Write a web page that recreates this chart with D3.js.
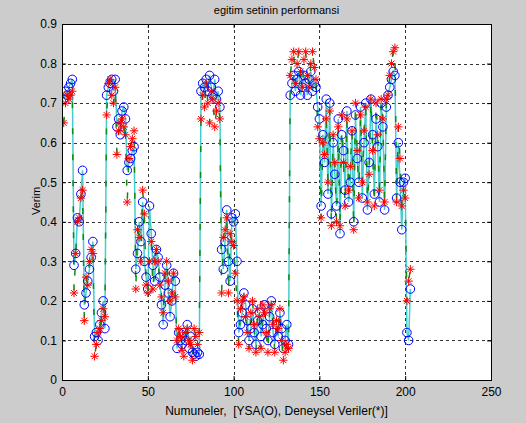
<!DOCTYPE html>
<html>
<head>
<meta charset="utf-8">
<script src="https://cdn.jsdelivr.net/npm/d3@7"></script>
<style>
  html, body { margin: 0; padding: 0; background: #cccccc; }
  svg { display: block; font-family: "Liberation Sans", Arial, sans-serif; }
</style>
</head>
<body>
<div class="chart"></div>
<script>
// YSA ciktisi (daireler) - numune sirasiyla
var ysa = [
  0.71, 0.73, 0.72, 0.74, 0.75, 0.76,
  0.29, 0.32, 0.41, 0.40, 0.47, 0.53,
  0.19, 0.22, 0.25, 0.28, 0.31, 0.35,
  0.11, 0.12, 0.10, 0.14, 0.17, 0.20, 0.13,
  0.72, 0.74, 0.75, 0.76, 0.73, 0.76,
  0.64, 0.66, 0.62, 0.68, 0.69, 0.66,
  0.53, 0.55, 0.56, 0.58, 0.59,
  0.28, 0.32, 0.40, 0.35, 0.45, 0.30, 0.26, 0.23, 0.44,
  0.37, 0.29, 0.25, 0.33, 0.31, 0.26, 0.19, 0.14, 0.24, 0.29, 0.22, 0.16, 0.20, 0.27, 0.25,
  0.08, 0.12, 0.10, 0.09, 0.12, 0.10, 0.14, 0.08, 0.11, 0.07, 0.065, 0.06, 0.07, 0.065,
  0.73, 0.75, 0.74, 0.76, 0.73, 0.77, 0.74, 0.72, 0.76, 0.71, 0.73, 0.69,
  0.33, 0.28, 0.35, 0.43, 0.30, 0.25, 0.41, 0.40, 0.42, 0.30,
  0.12, 0.14, 0.17, 0.22, 0.19, 0.15, 0.10, 0.13, 0.18, 0.12,
  0.09, 0.15, 0.17, 0.11, 0.14, 0.19, 0.13, 0.10, 0.16, 0.20,
  0.12, 0.09, 0.14, 0.11, 0.17, 0.13, 0.08, 0.10, 0.14, 0.09,
  0.72, 0.75, 0.77, 0.73, 0.76, 0.78, 0.72, 0.74, 0.77, 0.75, 0.72, 0.76, 0.78, 0.73, 0.75, 0.74,
  0.69, 0.66, 0.44, 0.62,
  0.55, 0.71, 0.47, 0.70, 0.42, 0.60, 0.52, 0.44, 0.66, 0.37,
  0.62, 0.58, 0.48, 0.68, 0.45, 0.50, 0.63, 0.40, 0.67, 0.56,
  0.50, 0.69, 0.46, 0.60, 0.70, 0.43, 0.55, 0.71, 0.62, 0.47,
  0.66, 0.59, 0.45, 0.70, 0.64, 0.43, 0.69, 0.72,
  0.74, 0.76, 0.78, 0.77,
  0.46, 0.60, 0.50, 0.38, 0.50, 0.51,
  0.12, 0.10, 0.23
];

// Deneysel veriler (yildizlar)
var deney = [
  0.65, 0.70, 0.72, 0.71, 0.72, 0.73,
  0.22, 0.32, 0.40, 0.41, 0.46, 0.48,
  0.15, 0.26, 0.24, 0.30, 0.33, 0.32,
  0.06, 0.09, 0.12, 0.13, 0.15, 0.18, 0.16,
  0.67, 0.75, 0.76, 0.72, 0.70, 0.74,
  0.57, 0.63, 0.65, 0.66, 0.64, 0.62,
  0.45, 0.56, 0.59, 0.61, 0.63,
  0.23, 0.38, 0.36, 0.30, 0.48, 0.42, 0.24, 0.22, 0.30,
  0.35, 0.23, 0.30, 0.33, 0.30, 0.24, 0.21, 0.17, 0.27, 0.30, 0.25, 0.20, 0.22, 0.27, 0.21,
  0.10, 0.13, 0.11, 0.075, 0.06, 0.12, 0.13, 0.10, 0.09, 0.05, 0.13, 0.11, 0.09, 0.12,
  0.66, 0.72, 0.69, 0.75, 0.70, 0.65, 0.73, 0.71, 0.64, 0.68, 0.70, 0.66,
  0.22, 0.36, 0.38, 0.41, 0.22, 0.37, 0.35, 0.34, 0.27, 0.20,
  0.09, 0.18, 0.20, 0.21, 0.16, 0.12, 0.08, 0.17, 0.20, 0.14,
  0.07, 0.18, 0.16, 0.08, 0.19, 0.17, 0.12, 0.07, 0.18, 0.19,
  0.14, 0.07, 0.15, 0.13, 0.18, 0.10, 0.05, 0.07, 0.09, 0.08,
  0.77, 0.81, 0.83, 0.75, 0.80, 0.83, 0.78, 0.74, 0.81, 0.83, 0.77, 0.74, 0.80, 0.83, 0.79, 0.76,
  0.64, 0.61, 0.41, 0.60,
  0.57, 0.66, 0.50, 0.68, 0.39, 0.62, 0.55, 0.40, 0.64, 0.39,
  0.67, 0.55, 0.44, 0.66, 0.48, 0.54, 0.63, 0.38, 0.70, 0.58,
  0.46, 0.67, 0.50, 0.63, 0.69, 0.45, 0.52, 0.71, 0.58, 0.44,
  0.70, 0.62, 0.48, 0.71, 0.66, 0.45, 0.71, 0.72,
  0.77, 0.80, 0.83, 0.84,
  0.45, 0.64, 0.56, 0.44, 0.48, 0.46,
  0.20, 0.25, 0.28
];

var xTicks = [0, 50, 100, 150, 200, 250];
var yTicks = [0, 0.1, 0.2, 0.3, 0.4, 0.5, 0.6, 0.7, 0.8, 0.9];

var n = Math.min(ysa.length, deney.length);
var numune = d3.range(1, n + 1);

var W = 526, H = 423;
var pL = 62, pR = 491, pT = 24, pB = 380; // cizim alani kenarlari

var x = d3.scaleLinear().domain([0, 250]).range([pL, pR]);
var y = d3.scaleLinear().domain([0, 0.9]).range([pB, pT]);

var svg = d3.select("div.chart")
            .append("svg")
            .attr("width", W)
            .attr("height", H);

svg.append("rect")
   .attr("width", W).attr("height", H)
   .attr("fill", "#cccccc");

// cizim alani
svg.append("rect")
   .attr("x", pL).attr("y", pT)
   .attr("width", pR - pL).attr("height", pB - pT)
   .attr("fill", "#ffffff");

// izgara
svg.selectAll("line.gx")
   .data(xTicks.slice(1, -1))
   .enter()
   .append("line")
   .attr("x1", function(d) { return Math.round(x(d)) + 0.5; })
   .attr("x2", function(d) { return Math.round(x(d)) + 0.5; })
   .attr("y1", pT).attr("y2", pB)
   .attr("stroke", "#333")
   .attr("stroke-dasharray", "3,3")
   .attr("stroke-width", 1);

svg.selectAll("line.gy")
   .data(yTicks.slice(1, -1))
   .enter()
   .append("line")
   .attr("y1", function(d) { return Math.round(y(d)) + 0.5; })
   .attr("y2", function(d) { return Math.round(y(d)) + 0.5; })
   .attr("x1", pL).attr("x2", pR)
   .attr("stroke", "#333")
   .attr("stroke-dasharray", "3,3")
   .attr("stroke-width", 1);

svg.append("clipPath").attr("id", "plotclip")
   .append("rect")
   .attr("x", pL).attr("y", pT)
   .attr("width", pR - pL).attr("height", pB - pT);

var plot = svg.append("g").attr("clip-path", "url(#plotclip)");

var seriLine = d3.line()
    .x(function(d, i) { return x(numune[i]); })
    .y(function(d) { return y(d); });

// YSA cizgisi (camgobegi), ustune deneysel kesikli cizgi (yesil)
plot.append("path")
    .datum(ysa.slice(0, n))
    .attr("d", seriLine)
    .attr("fill", "none")
    .attr("stroke", "#45cccc")
    .attr("stroke-width", 1.5);

plot.append("path")
    .datum(deney.slice(0, n))
    .attr("d", seriLine)
    .attr("fill", "none")
    .attr("stroke", "#108a10")
    .attr("stroke-dasharray", "6,20")
    .attr("stroke-width", 1.5);

// YSA daireleri
plot.selectAll("circle.ysa")
    .data(ysa.slice(0, n))
    .enter()
    .append("circle")
    .attr("cx", function(d, i) { return x(numune[i]); })
    .attr("cy", function(d) { return y(d); })
    .attr("r", 4.3)
    .attr("fill", "none")
    .attr("stroke", "#0000ff")
    .attr("stroke-width", 1);

// deneysel yildizlar
var s = 4.2;
plot.selectAll("path.star")
    .data(deney.slice(0, n))
    .enter()
    .append("path")
    .attr("transform", function(d, i) { return "translate(" + x(numune[i]) + "," + y(d) + ")"; })
    .attr("d", "M" + (-s) + ",0H" + s + "M0," + (-s) + "V" + s +
               "M" + (-s * 0.7) + "," + (-s * 0.7) + "L" + (s * 0.7) + "," + (s * 0.7) +
               "M" + (-s * 0.7) + "," + (s * 0.7) + "L" + (s * 0.7) + "," + (-s * 0.7))
    .attr("fill", "none")
    .attr("stroke", "#ff0000")
    .attr("stroke-width", 1);

// eksenler
var xAxis = d3.axisBottom(x).tickValues(xTicks).tickSizeInner(-4).tickSizeOuter(0).tickPadding(7);
var xAxisTop = d3.axisTop(x).tickValues(xTicks).tickSizeInner(-4).tickSizeOuter(0).tickFormat("");
var yAxis = d3.axisLeft(y).tickValues(yTicks).tickSizeInner(-4).tickSizeOuter(0).tickPadding(5)
              .tickFormat(function(d) { return d === 0 ? "0" : d3.format(".1f")(d); });
var yAxisRight = d3.axisRight(y).tickValues(yTicks).tickSizeInner(-4).tickSizeOuter(0).tickFormat("");

function styleAxis(g) {
  g.select(".domain").remove();
  g.selectAll("line").attr("stroke", "#000");
  g.selectAll("text").attr("fill", "#000").style("font-size", "12px")
   .style("font-family", "\"Liberation Sans\", Arial, sans-serif");
}

svg.append("g").attr("transform", "translate(0," + pB + ")").call(xAxis).call(styleAxis);
svg.append("g").attr("transform", "translate(0," + pT + ")").call(xAxisTop).call(styleAxis);
svg.append("g").attr("transform", "translate(" + pL + ",0)").call(yAxis).call(styleAxis);
svg.append("g").attr("transform", "translate(" + pR + ",0)").call(yAxisRight).call(styleAxis);

svg.append("rect")
   .attr("x", pL + 0.5).attr("y", pT + 0.5)
   .attr("width", pR - pL).attr("height", pB - pT)
   .attr("fill", "none")
   .attr("stroke", "#000")
   .attr("stroke-width", 1);

// basliklar
svg.append("text")
   .attr("x", (pL + pR) / 2).attr("y", 14)
   .attr("text-anchor", "middle")
   .style("font-size", "11px")
   .text("egitim setinin performansi");

svg.append("text")
   .attr("x", (pL + pR) / 2).attr("y", 415)
   .attr("text-anchor", "middle")
   .style("font-size", "12px")
   .style("white-space", "pre")
   .text("Numuneler,  [YSA(O), Deneysel Veriler(*)]");

svg.append("text")
   .attr("transform", "translate(40,201) rotate(-90)")
   .attr("text-anchor", "middle")
   .style("font-size", "11px")
   .text("Verim");
</script>
</body>
</html>
